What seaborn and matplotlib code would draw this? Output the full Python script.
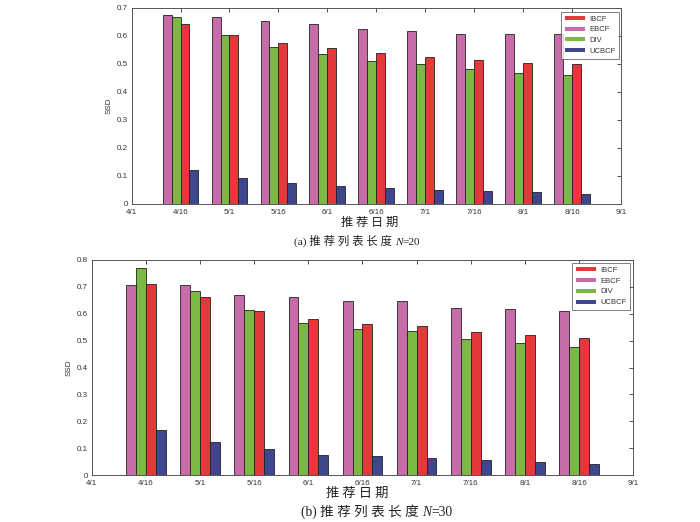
import matplotlib
matplotlib.use("Agg")
import matplotlib.pyplot as plt
import seaborn as sns
import pandas as pd
from matplotlib.patches import Patch
from matplotlib.offsetbox import TextArea, HPacker, AnnotationBbox

# ---------------- data ----------------
tick_labels = ['4/1', '4/16', '5/1', '5/16', '6/1', '6/16', '7/1', '7/16', '8/1', '8/16', '9/1']
dates = ['4/16', '5/1', '5/16', '6/1', '6/16', '7/1', '7/16', '8/1', '8/16']
methods = ['EBCF', 'DIV', 'IBCF', 'UCBCF']
legend_order = ['IBCF', 'EBCF', 'DIV', 'UCBCF']

# N = 20
ebcf_20 = [0.675, 0.667, 0.651, 0.642, 0.625, 0.617, 0.607, 0.605, 0.605]
div_20 = [0.666, 0.604, 0.561, 0.535, 0.510, 0.498, 0.483, 0.467, 0.459]
ibcf_20 = [0.641, 0.604, 0.575, 0.556, 0.537, 0.524, 0.512, 0.504, 0.499]
ucbcf_20 = [0.122, 0.091, 0.075, 0.064, 0.057, 0.051, 0.046, 0.042, 0.034]

# N = 30
ebcf_30 = [0.707, 0.706, 0.670, 0.663, 0.647, 0.647, 0.621, 0.616, 0.610]
div_30 = [0.769, 0.684, 0.613, 0.566, 0.544, 0.534, 0.506, 0.490, 0.476]
ibcf_30 = [0.711, 0.663, 0.611, 0.581, 0.563, 0.556, 0.532, 0.521, 0.511]
ucbcf_30 = [0.167, 0.122, 0.096, 0.073, 0.069, 0.062, 0.056, 0.048, 0.042]

yticks_20 = [0, 0.1, 0.2, 0.3, 0.4, 0.5, 0.6, 0.7]
yticks_30 = [0, 0.1, 0.2, 0.3, 0.4, 0.5, 0.6, 0.7, 0.8]

colors = {'EBCF': '#C86BA9', 'DIV': '#7CB944', 'IBCF': '#E5383A', 'UCBCF': '#3E478E'}


def long_df(series):
    rows = []
    for m, vals in zip(methods, series):
        for d, v in zip(dates, vals):
            rows.append({'date': d, 'method': m, 'SSD': v})
    return pd.DataFrame(rows)


df20 = long_df([ebcf_20, div_20, ibcf_20, ucbcf_20])
df30 = long_df([ebcf_30, div_30, ibcf_30, ucbcf_30])

# ---------------- style ----------------
sns.set_theme(style='white')
plt.rcParams['font.family'] = ['Liberation Sans', 'Noto Sans CJK SC']
plt.rcParams['axes.unicode_minus'] = False

fig = plt.figure(figsize=(7.0, 5.22), dpi=100)
W, H = 700, 522


def px_axes(l, t, r, b):
    return fig.add_axes([l / W, 1 - b / H, (r - l) / W, (b - t) / H])


ax1 = px_axes(131.6, 7.7, 621, 204)
ax2 = px_axes(91.7, 260, 633.3, 475)

cjk_serif = ['Liberation Serif', 'Noto Sans CJK SC']


def draw(ax, df, yticks, leg_anchor):
    sns.barplot(data=df, x='date', y='SSD', hue='method', order=tick_labels,
                hue_order=methods, palette=colors, saturation=1, width=0.73, ax=ax,
                edgecolor='#222222', linewidth=0.6, legend=False, errorbar=None)
    ax.set_xlim(0, len(tick_labels) - 1)
    ax.set_ylim(yticks[0], yticks[-1])
    ax.set_xticks(range(len(tick_labels)))
    ax.set_xticklabels(tick_labels)
    ax.set_yticks(yticks)
    ax.set_yticklabels([f'{v:g}' for v in yticks])
    ax.set_xlabel('')
    ax.set_ylabel('SSD', fontsize=5.8, color='#333333', labelpad=3)
    ax.tick_params(direction='in', top=True, right=True, length=3, width=0.6,
                   labelsize=5.8, labelcolor='#333333', color='#333333')
    ax.tick_params(axis='x', pad=3.5)
    ax.tick_params(axis='y', pad=2.5)
    for s in ax.spines.values():
        s.set_color('#555555')
        s.set_linewidth(0.7)
    handles = [Patch(facecolor=colors[m], edgecolor='none') for m in legend_order]
    leg = ax.legend(handles, legend_order, loc='upper right', bbox_to_anchor=leg_anchor,
                    fontsize=5.5, handlelength=2.6, handleheight=0.45, handletextpad=0.5,
                    labelspacing=0.5, borderpad=0.5, frameon=True, fancybox=False,
                    borderaxespad=0)
    leg.get_frame().set_edgecolor('#444444')
    leg.get_frame().set_linewidth(0.6)
    for t in leg.get_texts():
        t.set_color('#333333')


draw(ax1, df20, yticks_20, ((619 - 131.6) / (621 - 131.6), 1 - (11.7 - 7.7) / (204 - 7.7)))
draw(ax2, df30, yticks_30, ((630 - 91.7) / (633.3 - 91.7), 1 - (263 - 260) / (475 - 260)))


def caption(x, y, parts, fs):
    children = []
    for txt, italic in parts:
        props = dict(fontfamily=cjk_serif, fontsize=fs, color='#222222')
        if italic:
            props['fontstyle'] = 'italic'
        children.append(TextArea(txt, textprops=props))
    box = HPacker(children=children, sep=0, pad=0, align='baseline')
    ab = AnnotationBbox(box, (x / W, 1 - y / H), xycoords='figure fraction',
                        frameon=False, pad=0, box_alignment=(0.5, 0.5),
                        annotation_clip=False)
    fig.add_artist(ab)


# axis titles (x labels) and sub-captions
fig.text(370 / W, 1 - 222.7 / H, '推 荐 日 期', ha='center', va='center',
         fontsize=8.8, fontfamily=['Noto Sans CJK SC'], color='#222222')
caption(357, 240.7, [('(a) 推 荐 列 表 长 度 ', False), ('N', True), ('=20', False)], 8.2)

fig.text(357 / W, 1 - 493 / H, '推 荐 日 期', ha='center', va='center',
         fontsize=9.6, fontfamily=['Noto Sans CJK SC'], color='#222222')
caption(376.5, 512, [('(b) 推 荐 列 表 长 度 ', False), ('N', True), ('=30', False)], 9.8)

fig.savefig('out.png', dpi=100)
